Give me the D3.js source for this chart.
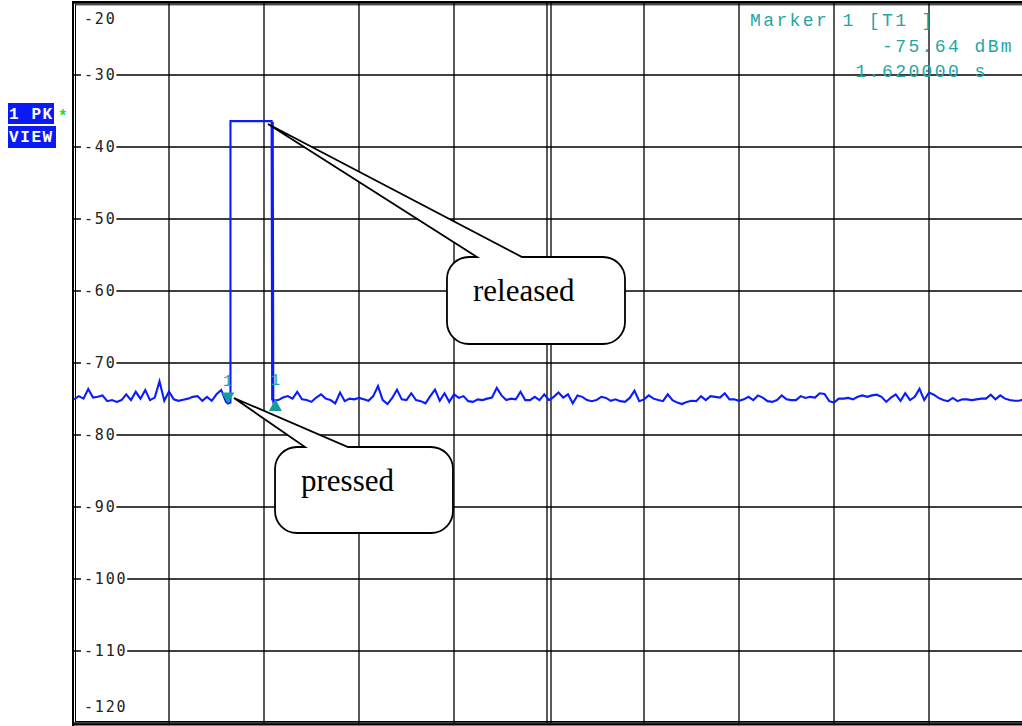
<!DOCTYPE html>
<html>
<head>
<meta charset="utf-8">
<script src="https://cdn.jsdelivr.net/npm/d3@7"></script>
<style>
body { margin: 0; background: #fff; }
svg { display: block; }
</style>
</head>
<body>
<div id="chart"></div>
<script>
// zero span sweep, 10 s wide, level in dBm
var sweepSec = [0, 10];
var levelRange = [-20, -120];
var timeTicks = [0, 1, 2, 3, 4, 5, 6, 7, 8, 9, 10];
var levelTicks = [-20, -30, -40, -50, -60, -70, -80, -90, -100, -110, -120];
var levelLabels = ["-20", "-30", "-40", "-50", "-60", "-70", "-80", "-90", "-100", "-110", "-120"];

// trace, one value every 0.05 s (null = hidden under the pulse)
var stepSec = 0.05;
var traceDb = [
  -75.05, -74.6, -74.95, -73.6, -74.8, -74.7, -74.5, -75.3, -75.15, -75.4,
  -75.15, -74.35, -75.15, -74.0, -74.95, -73.75, -75.15, -74.8, -72.55, -75.25,
  -73.95, -75.05, -75.25, -75.1, -74.95, -74.7, -74.6, -75.25, -74.7, -75.25,
  -74.35, -73.75, -75.4, null, null, null, null, null, null, null,
  null, null, null, -75.15, -74.8, -74.6, -74.95, -74.0, -75.05, -75.15,
  -75.4, -74.8, -74.35, -74.95, -75.15, -75.6, -74.1, -75.3, -74.95, -75.05,
  -74.85, -75.05, -75.25, -74.6, -73.2, -75.15, -75.7, -74.85, -73.7, -75.05,
  -75.15, -74.2, -75.15, -75.3, -75.6, -74.6, -73.7, -75.25, -74.2, -75.4,
  -74.35, -74.85, -74.6, -75.3, -75.4, -75.05, -75.15, -74.95, -74.8, -73.45,
  -74.5, -75.15, -74.95, -75.05, -74.0, -75.15, -75.15, -74.7, -75.15, -74.35,
  -75.15, -74.7, -74.1, -74.8, -74.35, -75.6, -74.5, -74.7, -75.15, -75.3,
  -75.15, -74.7, -74.85, -75.25, -75.05, -75.3, -75.4, -74.85, -73.85, -75.3,
  -75.05, -74.5, -74.95, -75.15, -75.3, -74.35, -75.15, -75.5, -75.7, -75.4,
  -75.25, -75.3, -74.6, -75.15, -74.6, -74.7, -74.8, -74.2, -75.05, -75.05,
  -75.25, -75.05, -74.7, -75.15, -74.5, -74.8, -75.3, -75.4, -75.15, -74.5,
  -75.05, -75.15, -75.15, -74.6, -74.85, -74.7, -74.8, -74.2, -74.3, -75.3,
  -75.5, -74.95, -74.95, -74.85, -75.05, -74.7, -74.5, -74.7, -74.5, -74.4,
  -74.7, -75.4, -74.8, -74.35, -75.25, -74.2, -75.15, -74.7, -73.6, -75.15,
  -74.1, -74.4, -74.85, -75.15, -75.3, -74.85, -75.3, -75.05, -75.05, -75.15,
  -75.05, -74.95, -74.95, -74.4, -75.05, -74.5, -74.95, -75.15, -75.25, -75.25,
  -75.05
];

// the key pulse
var pulseSec = [1.62, 1.647, 1.647, 2.08, 2.086, 2.092, 2.098, 2.104];
var pulseDb = [-75.64, -75.5, -36.4, -36.4, -75.2, -36.5, -75.3, -75.2];

// markers
var markerSec = [1.62, 2.12];
var markerDb = [-75.64, -75.0];
var markerDir = ["down", "up"];
var markerName = ["1", "1"];
var markerInfo = ["Marker 1 [T1 ]", "          -75.64 dBm", "        1.620000 s"];

// callouts
var calloutText = ["released", "pressed"];
var calloutTipSec = [2.042, 1.684];
var calloutTipDb = [-36.8, -74.86];

// callout boxes in scale units (layout only)
var calloutBox = [
  { x0: 3.926, x1: 5.80, y0: -55.28, y1: -67.36, b0: 4.242, b1: 4.716 },
  { x0: 2.116, x1: 3.989, y0: -81.67, y1: -93.61, b0: 2.432, b1: 2.884 }
];

var width = 1022, height = 726;

var x = d3.scaleLinear().domain(sweepSec).range([74, 1024]);
var y = d3.scaleLinear().domain(levelRange).range([3, 723]);

var svg = d3.select("#chart").append("svg")
    .attr("width", width)
    .attr("height", height);

svg.append("rect").attr("width", width).attr("height", height).style("fill", "white");

var plot = svg.append("g");

// horizontal grid
plot.selectAll(".hgrid")
    .data(levelTicks)
  .enter().append("line")
    .attr("class", "hgrid")
    .attr("x1", x(0)).attr("x2", x(10))
    .attr("y1", function(d) { return y(d); })
    .attr("y2", function(d) { return y(d); })
    .style("stroke", "black").style("stroke-width", 1.6);

// vertical grid, centre line is doubled
plot.selectAll(".vgrid")
    .data(timeTicks.filter(function(d) { return d > 0 && d < 10 && d != 5; }))
  .enter().append("line")
    .attr("class", "vgrid")
    .attr("x1", function(d) { return x(d); })
    .attr("x2", function(d) { return x(d); })
    .attr("y1", y(-20)).attr("y2", y(-120))
    .style("stroke", "black").style("stroke-width", 1.3);

[-2, 2].forEach(function(o) {
  plot.append("line")
      .attr("x1", x(5) + o).attr("x2", x(5) + o)
      .attr("y1", y(-20)).attr("y2", y(-120))
      .style("stroke", "black").style("stroke-width", 1.3);
});

// frame (double lines)
plot.append("line").attr("x1", 73).attr("x2", 73).attr("y1", 1).attr("y2", 726)
    .style("stroke", "black").style("stroke-width", 2);
plot.append("line").attr("x1", 75.5).attr("x2", 75.5).attr("y1", 4.5).attr("y2", 722)
    .style("stroke", "black").style("stroke-width", 1);
plot.append("line").attr("x1", 72).attr("x2", width).attr("y1", 2).attr("y2", 2)
    .style("stroke", "black").style("stroke-width", 2);
plot.append("line").attr("x1", 75).attr("x2", width).attr("y1", 4.8).attr("y2", 4.8)
    .style("stroke", "black").style("stroke-width", 1);
plot.append("line").attr("x1", 75).attr("x2", width).attr("y1", 721.5).attr("y2", 721.5)
    .style("stroke", "black").style("stroke-width", 1);
plot.append("line").attr("x1", 72).attr("x2", width).attr("y1", 724.5).attr("y2", 724.5)
    .style("stroke", "black").style("stroke-width", 2);

// level labels sit inside the grid, on a white patch
var ylab = plot.selectAll(".ylab")
    .data(levelTicks)
  .enter().append("g")
    .attr("class", "ylab")
    .attr("transform", function(d, i) {
      var yy = y(d);
      if (i == 0) yy += 16;
      if (i == levelTicks.length - 1) yy -= 16;
      return "translate(84," + yy + ")";
    });

ylab.append("rect")
    .attr("x", -3).attr("y", -7)
    .attr("width", function(d, i) { return levelLabels[i].length * 10.8 + 3; })
    .attr("height", 14)
    .style("fill", "white");

ylab.append("text")
    .attr("dy", "0.36em")
    .style("font-family", "'DejaVu Sans Mono', monospace")
    .style("font-size", "15px")
    .style("letter-spacing", "1.8px")
    .style("fill", "#222")
    .text(function(d, i) { return levelLabels[i]; });

// trace points: noise before the pulse, the pulse, noise after
var tracePts = [];
traceDb.forEach(function(v, i) {
  var t = i * stepSec;
  if (v !== null && t < pulseSec[0]) tracePts.push([t, v]);
});
pulseSec.forEach(function(t, i) { tracePts.push([t, pulseDb[i]]); });
traceDb.forEach(function(v, i) {
  var t = i * stepSec;
  if (v !== null && t > pulseSec[pulseSec.length - 1]) tracePts.push([t, v]);
});

var line = d3.line()
    .x(function(d) { return x(d[0]); })
    .y(function(d) { return y(d[1]); });

plot.append("path")
    .datum(tracePts)
    .attr("d", line)
    .style("fill", "none")
    .style("stroke", "#0a1cff")
    .style("stroke-width", 2.1)
    .style("stroke-linejoin", "miter");

// markers
var mk = plot.selectAll(".marker")
    .data(markerSec)
  .enter().append("g")
    .attr("class", "marker")
    .attr("transform", function(d, i) { return "translate(" + x(d) + "," + y(markerDb[i]) + ")"; });

mk.append("path")
    .attr("d", function(d, i) {
      return markerDir[i] == "down" ? "M-6.5,-11L6.5,-11L0,0Z" : "M0,0L6.5,12L-6.5,12Z";
    })
    .style("fill", "#139c9c");

mk.append("text")
    .attr("y", function(d, i) { return markerDir[i] == "down" ? -18 : -14; })
    .attr("text-anchor", "middle")
    .style("font-family", "'Liberation Mono', monospace")
    .style("font-size", "16px")
    .style("fill", "#1fa3a3")
    .text(function(d, i) { return markerName[i]; });

// marker readout
svg.selectAll(".minfo")
    .data(markerInfo)
  .enter().append("text")
    .attr("class", "minfo")
    .attr("x", 750)
    .attr("y", function(d, i) { return 26 + i * 25.5; })
    .style("white-space", "pre")
    .style("font-family", "'Liberation Mono', monospace")
    .style("font-size", "18px")
    .style("letter-spacing", "2.4px")
    .style("fill", "#1fa6a6")
    .text(function(d) { return d; });

// callouts
var co = plot.selectAll(".callout")
    .data(calloutText)
  .enter().append("g")
    .attr("class", "callout");

co.append("path")
    .attr("d", function(d, i) {
      var b = calloutBox[i], r = 22;
      var x0 = x(b.x0), x1 = x(b.x1), y0 = y(b.y0), y1 = y(b.y1);
      var p = d3.path();
      p.moveTo(x0 + r, y0);
      p.lineTo(x(b.b0), y0);
      p.lineTo(x(calloutTipSec[i]), y(calloutTipDb[i]));
      p.lineTo(x(b.b1), y0);
      p.arcTo(x1, y0, x1, y1, r);
      p.arcTo(x1, y1, x0, y1, r);
      p.arcTo(x0, y1, x0, y0, r);
      p.arcTo(x0, y0, x1, y0, r);
      p.closePath();
      return p.toString();
    })
    .style("fill", "white")
    .style("stroke", "black")
    .style("stroke-width", 1.8);

co.append("text")
    .attr("x", function(d, i) { return x(calloutBox[i].x0) + 26; })
    .attr("y", function(d, i) { return y(calloutBox[i].y0) + 44; })
    .style("font-family", "'Liberation Serif', serif")
    .style("font-size", "31px")
    .style("fill", "black")
    .text(function(d) { return d; });

// trace info boxes on the left
var tags = ["1 PK", "VIEW"];
var tag = svg.selectAll(".tag")
    .data(tags)
  .enter().append("g")
    .attr("class", "tag")
    .attr("transform", function(d, i) { return "translate(8," + (103 + i * 23) + ")"; });

tag.append("rect")
    .attr("width", function(d, i) { return i == 0 ? 46 : 48; })
    .attr("height", function(d, i) { return i == 0 ? 21 : 22; })
    .style("fill", "#0a1af5");

tag.append("text")
    .attr("x", 1).attr("y", 16)
    .style("font-family", "'Liberation Mono', monospace")
    .style("font-weight", "bold")
    .style("font-size", "16px")
    .style("letter-spacing", "1.6px")
    .style("fill", "white")
    .text(function(d) { return d; });

svg.append("text")
    .attr("x", 58).attr("y", 121)
    .style("font-family", "'Liberation Mono', monospace")
    .style("font-weight", "bold")
    .style("font-size", "16px")
    .style("fill", "#22dd22")
    .text("*");
</script>
</body>
</html>
